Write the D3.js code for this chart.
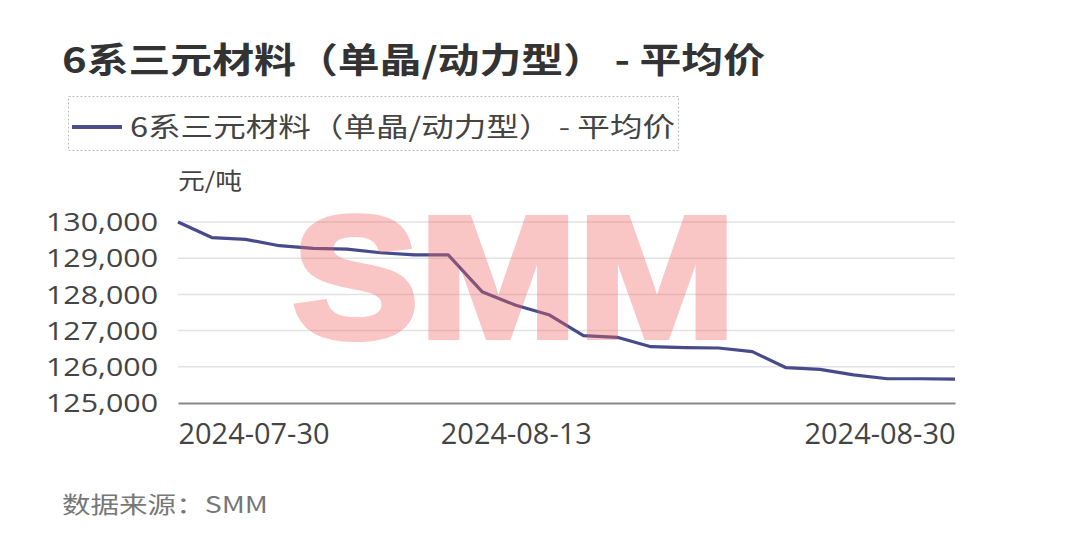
<!DOCTYPE html>
<html><head><meta charset="utf-8">
<script src="https://cdn.jsdelivr.net/npm/d3@7"></script>
<style>
html,body{margin:0;padding:0;background:#fff;}
svg{display:block;}
</style></head>
<body>
<div id="chart"></div>
<script>
const dates = ["2024-07-30","2024-07-31","2024-08-01","2024-08-02","2024-08-05","2024-08-06","2024-08-07","2024-08-08","2024-08-09","2024-08-12","2024-08-13","2024-08-14","2024-08-15","2024-08-16","2024-08-19","2024-08-20","2024-08-21","2024-08-22","2024-08-23","2024-08-26","2024-08-27","2024-08-28","2024-08-29","2024-08-30"];
const prices = [130000,129570,129520,129345,129270,129250,129150,129090,129090,128075,127700,127430,126860,126815,126555,126530,126520,126420,125975,125930,125775,125670,125670,125660];
const yTicks = [125000,126000,127000,128000,129000,130000];
const xTickLabels = ["2024-07-30","2024-08-13","2024-08-30"];
const titleText = "6系三元材料（单晶/动力型） - 平均价";
const unitText = "元/吨";
const sourceText = "数据来源：SMM";

(function(){
const W = 1080, H = 545;
const cjk = "'Noto Sans CJK SC','Noto Sans',sans-serif";
const num = "'Open Sans','Noto Sans',sans-serif";
const svg = d3.select("#chart").append("svg").attr("width", W).attr("height", H);

const pl = 178, pr = 955, pt = 222, pb = 403;
const x = d3.scalePoint().domain(dates).range([pl, pr]);
const y = d3.scaleLinear().domain([125000, 130000]).range([pb, pt]);

svg.append("text").attr("x", 62).attr("y", 73).text(titleText)
  .attr("font-family", cjk).attr("font-weight", 700).attr("font-size", 35).attr("fill", "#333")
  .attr("textLength", 703).attr("lengthAdjust", "spacingAndGlyphs");

svg.append("rect").attr("x", 68.5).attr("y", 96.5).attr("width", 610).attr("height", 54)
  .attr("fill", "none").attr("stroke", "#bbb").attr("stroke-dasharray", "2,2");
svg.append("line").attr("x1", 72).attr("x2", 122).attr("y1", 127).attr("y2", 127)
  .attr("stroke", "#4a4f8c").attr("stroke-width", 4);
svg.append("text").attr("x", 130).attr("y", 137).text(titleText)
  .attr("font-family", cjk).attr("font-size", 27).attr("fill", "#444")
  .attr("textLength", 545).attr("lengthAdjust", "spacingAndGlyphs");

svg.append("text").attr("x", 178).attr("y", 189).text(unitText)
  .attr("font-family", cjk).attr("font-size", 23).attr("fill", "#444")
  .attr("textLength", 64).attr("lengthAdjust", "spacingAndGlyphs");

svg.append("g").selectAll("line").data(yTicks.slice(1)).join("line")
  .attr("x1", pl).attr("x2", pr).attr("y1", d => y(d)).attr("y2", d => y(d))
  .attr("stroke", "#e2e2e2").attr("stroke-width", 1.5);

const yAxis = d3.axisLeft(y).tickValues(yTicks).tickSize(0).tickPadding(0).tickFormat(d3.format(","));
const ya = svg.append("g").attr("transform", `translate(158,0)`).call(yAxis);
ya.select(".domain").remove();
ya.selectAll("text").attr("font-family", num).attr("font-size", 25).attr("fill", "#444").attr("dy", "0.35em")
  .attr("textLength", 112).attr("lengthAdjust", "spacingAndGlyphs");

const xAxis = d3.axisBottom(x).tickValues(xTickLabels).tickSize(0).tickPadding(0);
const xa = svg.append("g").attr("transform", `translate(0,${pb})`).call(xAxis);
xa.select(".domain").attr("stroke", "#888").attr("stroke-width", 2);
xa.selectAll("text").attr("font-family", num).attr("font-size", 29).attr("fill", "#444")
  .attr("y", 0).attr("dy", 0).attr("transform", "translate(0,41)")
  .attr("textLength", 151).attr("lengthAdjust", "spacingAndGlyphs")
  .attr("text-anchor", (d,i) => i === 0 ? "start" : (i === xTickLabels.length-1 ? "end" : "middle"));

const line = d3.line().x((d,i) => x(dates[i])).y(d => y(d));
svg.append("path").datum(prices).attr("d", line).attr("fill", "none")
  .attr("stroke", "#474b8a").attr("stroke-width", 3.2).attr("stroke-linejoin", "round");

svg.append("text").attr("x", 292).attr("y", 337).text("SMM")
  .attr("font-family", "'Liberation Sans',Arial,sans-serif").attr("font-weight", 700)
  .attr("font-size", 172).attr("textLength", 444).attr("lengthAdjust", "spacingAndGlyphs")
  .attr("fill", "rgb(240,100,100)").attr("stroke", "rgb(240,100,100)").attr("stroke-width", 6)
  .attr("stroke-linejoin", "miter").attr("opacity", 0.37);

svg.append("text").attr("x", 62).attr("y", 513).text(sourceText)
  .attr("font-family", cjk).attr("font-size", 23).attr("fill", "#777")
  .attr("textLength", 206).attr("lengthAdjust", "spacingAndGlyphs");
})();
</script>
</body></html>
